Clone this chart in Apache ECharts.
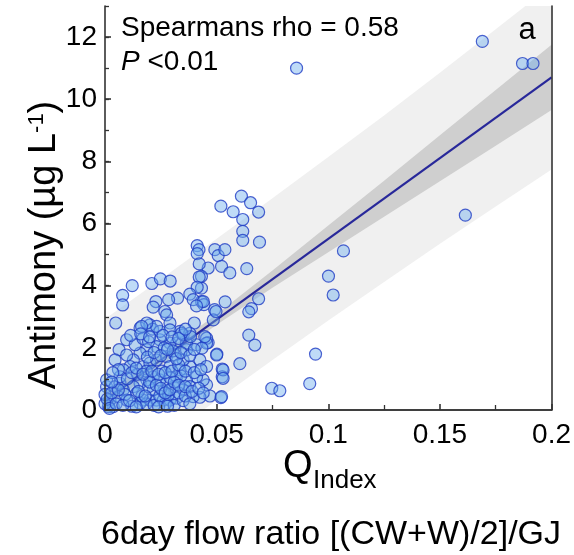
<!DOCTYPE html>
<html>
<head>
<meta charset="utf-8">
<script src="https://cdn.jsdelivr.net/npm/echarts@6/dist/echarts.min.js"></script>
<style>
html,body{margin:0;padding:0;background:#fff;}
#chart{width:574px;height:555px;}
</style>
</head>
<body>
<div id="chart"></div>
<script>
// ---- data ----
var xTickLabels = ['0', '0.05', '0.1', '0.15', '0.2'];
var yTickLabels = ['0', '2', '4', '6', '8', '10', '12'];

// scatter points: Q index (x) and antimony (y)
var qIndex = [
  0.0858,0.169,0.187,0.1917,0.1614,0.1068,0.1001,0.1022,0.0943,0.0917,
  0.0611,0.0652,0.0519,0.0574,0.0688,0.0617,0.0617,0.0617,0.0692,0.0635,
  0.0688,0.0656,0.0644,0.0644,0.0671,0.0604,0.0525,0.0525,0.0747,0.0783,
  0.0519,0.047,0.0501,0.0538,0.0491,0.0485,0.0462,0.0455,0.0492,0.0507,
  0.0537,0.0522,0.0559,0.0462,0.0432,0.0432,0.0432,0.0443,0.0413,0.0421,
  0.0413,0.0422,0.0422,0.0413,0.0122,0.021,0.0248,0.0292,0.0079,0.0079,
  0.0325,0.0285,0.0228,0.0216,0.038,0.0395,0.044,0.041,0.0048,0.0097,
  0.0063,0.0045,0.0157,0.0201,0.0213,0.0268,0.0276,0.0291,0.0336,0.04,
  0.05,0.0529,0.0529,0.0522,0.0425,0.0455,0.044,0.041,0.038,0.035,
  0.0365,0.0321,0.041,0.0455,0.0447,0.0246,0.0231,0.0187,0.0157,0.0127,
  0.0112,0.0171,0.0201,0.0231,0.0276,0.0291,0.0336,0.0321,0.0365,0.038,
  0.035,0.0306,0.0276,0.0246,0.0216,0.0187,0.0157,0.0127,0.0142,0.0171,
  0.0201,0.0231,0.0261,0.0291,0.0321,0.0395,0.0261,0.0216,0.0157,0.0037,
  0.0022,0.0007,0.0007,0.0045,0.0067,0.0082,0.006,0.0097,0.0015,0.0097,
  0.0082,0.0067,0.0365,0.035,0.038,0.0246,0.0231,0.0291,0.0313,0.0383,
  0.0497,0.0434,0.0291,0.0343,0.0187,0.0164,0.0,0.0,0.001,0.003,
  0.0185,0.022,0.027,0.031,0.035,0.012,0.0165,0.0245,0.0285,0.033,
  0.036,0.0195,0.029,0.034,0.0255,0.0185,0.0145,0.010,0.006,0.0035,
  0.002,0.009,0.0135,0.0115,0.017,0.0265,0.0305,0.0195,0.0425,0.0455,
  0.012,0.015,0.018,0.020,0.023,0.025,0.027,0.029,0.031,0.033,
  0.036,0.039,0.042,0.044,0.014,0.017,0.021,0.024,0.027,0.030,
  0.033,0.036,0.040,0.043,0.019,0.022,0.025,0.028,0.032,0.034,
  0.038,0.040,0.016,0.020,0.026,0.030,0.033,0.036,0.005,0.008,
  0.011,0.014,0.024,0.028,0.038,0.006,0.003
];
var antimony = [
  11.0,11.86,11.15,11.15,6.27,5.12,4.31,3.70,1.80,0.85,
  6.88,6.67,6.56,6.38,6.37,6.13,5.75,5.46,5.40,4.55,
  3.58,3.26,3.16,2.41,2.09,1.49,1.32,1.07,0.70,0.62,
  0.40,0.45,1.80,3.48,3.23,2.90,2.17,2.31,5.16,4.97,
  5.16,4.62,4.41,4.57,4.30,3.92,3.49,3.39,5.29,5.16,
  5.03,4.70,4.28,3.95,4.0,4.07,4.22,4.15,3.69,3.38,
  3.60,3.55,3.49,3.31,3.73,3.55,3.49,3.35,2.80,2.26,
  1.94,1.61,2.64,2.74,2.60,3.17,3.06,2.80,2.53,2.80,
  1.77,1.29,1.02,0.43,0.41,0.81,0.97,1.07,1.40,1.61,
  1.94,2.15,2.10,2.15,2.36,2.26,2.04,1.94,1.83,1.61,
  1.40,1.40,1.51,1.61,1.72,1.40,1.29,1.07,0.97,0.75,
  0.65,0.75,0.86,0.97,1.07,0.97,0.86,0.75,0.54,0.32,
  0.32,0.32,0.32,0.32,0.38,0.43,0.59,0.65,0.22,0.11,
  0.32,0.75,0.97,0.75,0.86,0.65,0.43,0.32,0.11,1.77,
  1.29,1.07,2.15,2.42,2.47,2.53,2.69,2.15,1.77,2.36,
  3.17,1.99,2.58,2.47,2.80,2.69,0.2,0.5,0.35,0.55,
  0.2,0.15,0.2,0.15,0.3,0.12,0.45,0.45,0.5,0.55,
  0.45,0.75,1.05,1.1,1.25,1.25,1.15,1.0,1.3,1.2,
  0.05,0.5,2.1,2.4,2.3,2.0,1.9,2.2,1.61,1.40,
  1.2,0.6,0.45,0.9,0.8,0.7,0.55,0.65,0.9,0.8,
  0.75,0.6,0.7,0.55,1.35,1.15,1.25,1.15,1.2,1.25,
  1.45,1.25,1.2,1.3,1.7,1.85,1.75,1.95,1.65,1.85,
  1.75,1.95,2.45,2.35,2.4,2.35,2.3,2.6,0.2,0.15,
  0.3,0.1,0.1,0.12,0.2,0.65,0.9
];

// fitted regression line (end points)
var fitX = [0, 0.2];
var fitY = [0.31, 10.70];

// confidence (dark) and prediction (light) bands
var bandX     = [0, 0.025, 0.05, 0.075, 0.1, 0.125, 0.15, 0.175, 0.2];
var confUpper = [0.56, 1.78, 3.08, 4.49, 5.94, 7.38, 8.84, 10.30, 11.75];
var confLower = [0.06, 1.44, 2.74, 3.93, 5.08, 6.22, 7.36, 8.50, 9.65];
var predUpper = [2.93, 4.21, 5.51, 6.81, 8.14, 9.48, 10.85, 12.25, 13.66];
var predLower = [-2.31, -0.99, 0.31, 1.61, 2.88, 4.12, 5.35, 6.55, 7.74];

// ---- build chart ----
var FONT = 'Liberation Sans, Arial, sans-serif';
var points = qIndex.map(function (x, i) { return [x, antimony[i]]; });
var fitData = fitX.map(function (x, i) { return [x, fitY[i]]; });

function bandRenderer(upper, lower, fill) {
  return function (params, api) {
    var pts = [];
    for (var i = 0; i < bandX.length; i++) pts.push(api.coord([bandX[i], upper[i]]));
    for (var j = bandX.length - 1; j >= 0; j--) pts.push(api.coord([bandX[j], lower[j]]));
    return { type: 'polygon', shape: { points: pts }, style: { fill: fill } };
  };
}

var chart = echarts.init(document.getElementById('chart'), null, { renderer: 'canvas' });
var axisLineStyle = { color: '#333', width: 1.6 };
var option = {
  animation: false,
  backgroundColor: '#fff',
  grid: { left: 105, right: 22, top: 6, bottom: 145, containLabel: false },
  xAxis: [
    {
      type: 'value', min: 0, max: 0.2, interval: 0.05, z: 10,
      axisLine: { show: true, lineStyle: axisLineStyle },
      axisTick: { show: true, inside: true, length: 6, lineStyle: axisLineStyle },
      minorTick: { show: true, splitNumber: 2, length: 5, lineStyle: { color: '#333', width: 1.3 } },
      splitLine: { show: false },
      axisLabel: {
        fontSize: 28, color: '#000', fontFamily: FONT, margin: 11,
        formatter: function (v, idx) { return xTickLabels[idx]; }
      }
    },
    {
      type: 'value', position: 'top', min: 0, max: 0.2, z: 10,
      axisLine: { show: true, lineStyle: axisLineStyle },
      axisTick: { show: false }, axisLabel: { show: false }, splitLine: { show: false }
    }
  ],
  yAxis: [
    {
      type: 'value', min: 0, max: 13, interval: 2, z: 10,
      axisLine: { show: true, lineStyle: axisLineStyle },
      axisTick: { show: true, inside: true, length: 6, lineStyle: axisLineStyle },
      splitLine: { show: false },
      axisLabel: {
        fontSize: 28, color: '#000', fontFamily: FONT, margin: 8, showMaxLabel: false,
        formatter: function (v, idx) { return yTickLabels[idx] !== undefined ? yTickLabels[idx] : ''; }
      }
    },
    {
      type: 'value', position: 'left', min: 0, max: 13, interval: 1, z: 10,
      axisLine: { show: false },
      axisTick: { show: true, inside: true, length: 4, lineStyle: { color: '#333', width: 1.3 } },
      axisLabel: { show: false }, splitLine: { show: false }
    },
    {
      type: 'value', position: 'right', min: 0, max: 13, z: 10,
      axisLine: { show: true, lineStyle: axisLineStyle },
      axisTick: { show: false }, axisLabel: { show: false }, splitLine: { show: false }
    }
  ],
  series: [
    {
      type: 'custom', name: 'prediction', clip: true, z: 1, silent: true,
      data: [[0, 0]], renderItem: bandRenderer(predUpper, predLower, '#f0f0f0')
    },
    {
      type: 'custom', name: 'confidence', clip: true, z: 2, silent: true,
      data: [[0, 0]], renderItem: bandRenderer(confUpper, confLower, '#cfcfcf')
    },
    {
      type: 'line', name: 'fit', data: fitData, symbol: 'none', z: 3,
      lineStyle: { color: '#28289a', width: 2.2 }
    },
    {
      type: 'scatter', name: 'samples', data: points, symbol: 'circle', symbolSize: 12, z: 4,
      itemStyle: { color: 'rgba(110,173,237,0.55)', borderColor: '#1f3cc4', borderWidth: 1.2 }
    }
  ],
  graphic: [
    { type: 'text', x: 121, y: 28, z: 20,
      style: { text: 'Spearmans rho = 0.58', fontSize: 28, fontFamily: FONT, fill: '#000', verticalAlign: 'middle' } },
    { type: 'text', x: 121, y: 62, z: 20,
      style: { text: '{i|P} <0.01', fontSize: 28, fontFamily: FONT, fill: '#000', verticalAlign: 'middle',
        rich: { i: { fontStyle: 'italic', fontSize: 28, fontFamily: FONT, fill: '#000' } } } },
    { type: 'text', x: 527, y: 30, z: 20,
      style: { text: 'a', fontSize: 31, fontFamily: FONT, fill: '#000', align: 'center', verticalAlign: 'middle' } },
    { type: 'text', x: 45, y: 245, rotation: Math.PI / 2, z: 20,
      style: { text: 'Antimony (µg L{s|-1})', fontSize: 38, fontFamily: FONT, fill: '#000', align: 'center', verticalAlign: 'middle',
        rich: { s: { fontSize: 22, fontFamily: FONT, fill: '#000', verticalAlign: 'top' } } } },
    { type: 'text', x: 283, y: 467, z: 20,
      style: { text: 'Q', fontSize: 38, fontFamily: FONT, fill: '#000', verticalAlign: 'middle' } },
    { type: 'text', x: 313, y: 481, z: 20,
      style: { text: 'Index', fontSize: 26, fontFamily: FONT, fill: '#000', verticalAlign: 'middle' } },
    { type: 'text', x: 331, y: 535, z: 20,
      style: { text: '6day flow ratio [(CW+W)/2]/GJ', fontSize: 34, fontFamily: FONT, fill: '#000', align: 'center', verticalAlign: 'middle' } }
  ]
};
chart.setOption(option);
</script>
</body>
</html>
